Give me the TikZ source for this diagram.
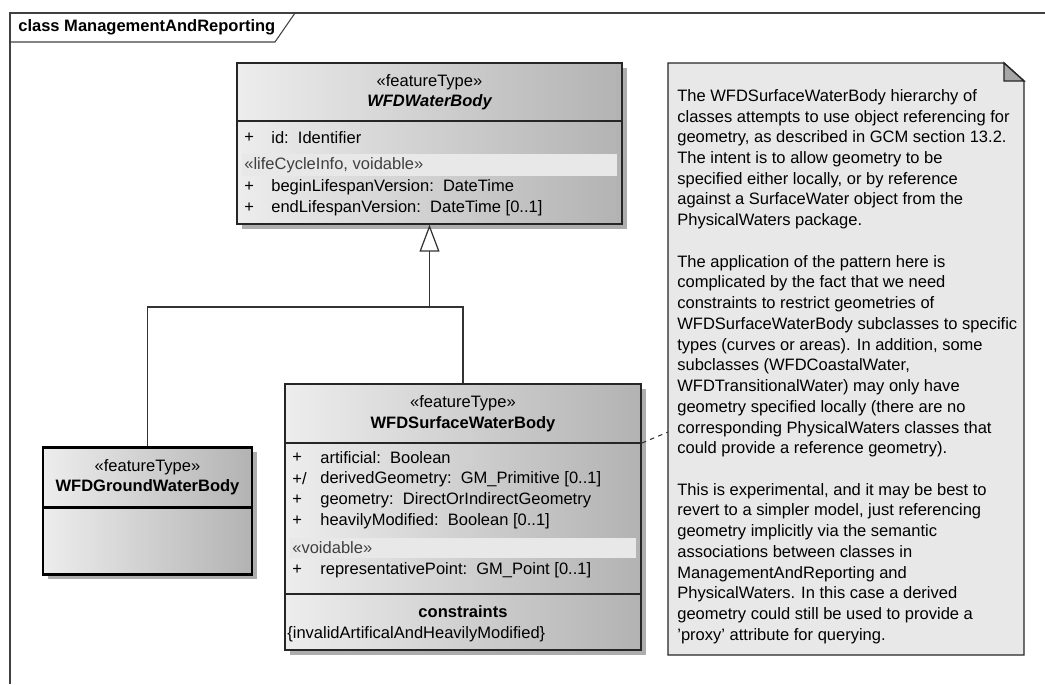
\documentclass[tikz,border=0pt]{standalone}
\usepackage{fontspec}
\setmainfont{Liberation Sans}
\usetikzlibrary{positioning,fit,arrows.meta,shadows}

\begin{document}
\begin{tikzpicture}[
    x=0.02cm, y=-0.02cm,
    font=\fontsize{9.4}{11.8}\selectfont,
    umlclass/.style={
        draw=black!85,
        line width=0.8pt,
        inner sep=0pt,
        left color=black!7,
        middle color=black!11,
        right color=black!30,
        drop shadow={shadow xshift=0.1cm, shadow yshift=-0.1cm, fill=black!40, opacity=0.8}
    },
    groundclass/.style={umlclass, line width=1.7pt, draw=black},
    sep/.style={draw=black!85, line width=0.9pt},
    band/.style={fill=black!9},
    attr/.style={anchor=west, inner sep=0pt},
    stereo/.style={inner sep=0pt},
    frame/.style={draw=black!75, line width=0.6pt},
    link/.style={draw=black!80, line width=0.7pt},
    gen/.style={link, -{Triangle[open, width=0.4cm, length=0.54cm]}},
    noteline/.style={draw=black!80, line width=0.6pt, dash pattern=on 2.5pt off 2.5pt},
    notebox/.style={draw=black!85, line width=0.8pt, fill=black!9}
]
\useasboundingbox (0,0) rectangle (1045,684);

% ------------------------------------------------------------
% package frame
% ------------------------------------------------------------
\draw[frame] (1045,13) -- (10,13) -- (10,684);
\draw[frame] (10,42) -- (275,42) -- (295,13);
\node[attr, font=\fontsize{9.4}{11.8}\selectfont\bfseries] (title) at (18,27) {class ManagementAndReporting};

% ------------------------------------------------------------
% WFDWaterBody
% ------------------------------------------------------------
\node[umlclass, fit={(237,63) (622,224)}] (water) {};
\draw[sep] (237,121) -- (622,121);
\fill[band] (242,154) rectangle (617,176);
\node[stereo] at (429.5,82) {«featureType»};
\node[stereo, font=\fontsize{9.4}{11.8}\selectfont\bfseries\itshape] at (429.5,102) {WFDWaterBody};
\node[attr] at (244,138) {+};
\node[attr] at (271,138) {id:\ \ Identifier};
\node[attr, text=black!75] at (244,165) {«lifeCycleInfo, voidable»};
\node[attr] at (244,187) {+};
\node[attr] at (271,187) {beginLifespanVersion:\ \ DateTime};
\node[attr] at (244,208) {+};
\node[attr] at (271,208) {endLifespanVersion:\ \ DateTime [0..1]};

% ------------------------------------------------------------
% WFDGroundWaterBody
% ------------------------------------------------------------
\node[groundclass, fit={(43,447) (252,574)}] (ground) {};
\draw[sep, line width=1.7pt, draw=black] (43,507) -- (252,507);
\node[stereo] at (147.5,467) {«featureType»};
\node[stereo, font=\fontsize{9.4}{11.8}\selectfont\bfseries] at (147.5,487) {WFDGroundWaterBody};

% ------------------------------------------------------------
% WFDSurfaceWaterBody
% ------------------------------------------------------------
\node[umlclass, fit={(285,384) (641,650)}] (surface) {};
\draw[sep] (285,443) -- (641,443);
\draw[sep] (285,594) -- (641,594);
\fill[band] (290,538) rectangle (636,558);
\node[stereo] at (463,403) {«featureType»};
\node[stereo, font=\fontsize{9.4}{11.8}\selectfont\bfseries] at (463,424) {WFDSurfaceWaterBody};
\node[attr] at (292,458) {+};
\node[attr] at (320,458) {artificial:\ \ Boolean};
\node[attr] at (292,479) {+/};
\node[attr] at (320,479) {derivedGeometry:\ \ GM\_Primitive [0..1]};
\node[attr] at (292,500) {+};
\node[attr] at (320,500) {geometry:\ \ DirectOrIndirectGeometry};
\node[attr] at (292,521) {+};
\node[attr] at (320,521) {heavilyModified:\ \ Boolean [0..1]};
\node[attr, text=black!75] at (292,548) {«voidable»};
\node[attr] at (292,570) {+};
\node[attr] at (320,570) {representativePoint:\ \ GM\_Point [0..1]};
\node[stereo, font=\fontsize{9.4}{11.8}\selectfont\bfseries] at (463,612) {constraints};
\node[attr] at (287,634) {\{invalidArtificalAndHeavilyModified\}};

% ------------------------------------------------------------
% generalisation
% ------------------------------------------------------------
\coordinate (join) at (429.5,307);
\draw[gen] (surface.north) |- (join) -- (water.south);
\draw[link] (ground.north) |- (join);

% ------------------------------------------------------------
% note
% ------------------------------------------------------------
\draw[notebox] (668,63) -- (1004,63) -- (1024,81) -- (1024,655) -- (668,655) -- cycle;
\draw[notebox, fill=black!35] (1004,63) -- (1004,81) -- (1024,81) -- cycle;
\node[anchor=north west, inner sep=0pt, align=left] (note) at (677,89) {%
The WFDSurfaceWaterBody hierarchy of\\
classes attempts to use object referencing for\\
geometry, as described in GCM section 13.2.\\
The intent is to allow geometry to be\\
specified either locally, or by reference\\
against a SurfaceWater object from the\\
PhysicalWaters package.\\
~\\
The application of the pattern here is\\
complicated by the fact that we need\\
constraints to restrict geometries of\\
WFDSurfaceWaterBody subclasses to specific\\
types (curves or areas). In addition, some\\
subclasses (WFDCoastalWater,\\
WFDTransitionalWater) may only have\\
geometry specified locally (there are no\\
corresponding PhysicalWaters classes that\\
could provide a reference geometry).\\
~\\
This is experimental, and it may be best to\\
revert to a simpler model, just referencing\\
geometry implicitly via the semantic\\
associations between classes in\\
ManagementAndReporting and\\
PhysicalWaters. In this case a derived\\
geometry could still be used to provide a\\
'proxy' attribute for querying.};

\coordinate (surfA) at (642,443);
\coordinate (noteA) at (668,432);
\draw[noteline] (surfA) -- (noteA);

\end{tikzpicture}
\end{document}
